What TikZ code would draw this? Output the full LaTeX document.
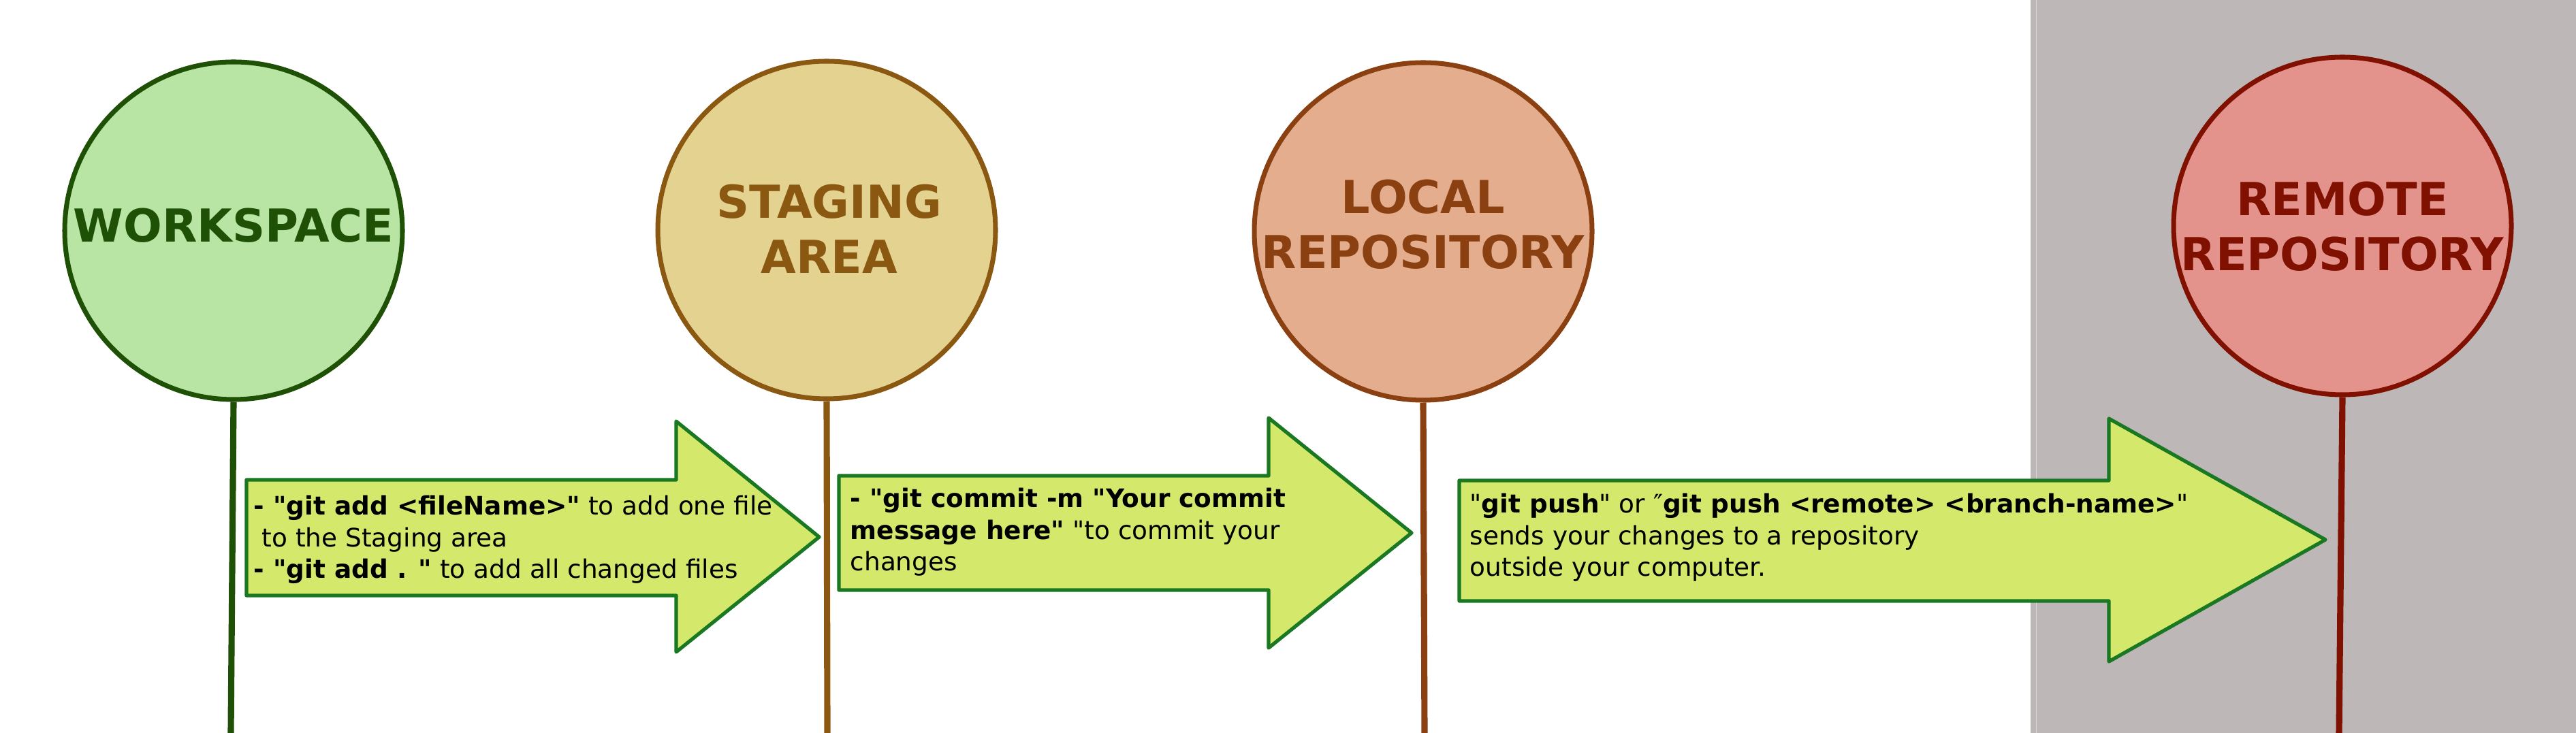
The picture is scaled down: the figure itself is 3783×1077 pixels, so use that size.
\documentclass[tikz,border=0pt]{standalone}
\usepackage{fontspec}
\setmainfont{DejaVu Sans}[Ligatures=TeXOff]
\definecolor{panelgray}{HTML}{BDB7B7}
\definecolor{panelline}{HTML}{D9D5D5}
\definecolor{wsline}{HTML}{1E5005}
\definecolor{wsfill}{HTML}{B8E4A4}
\definecolor{stline}{HTML}{8B5812}
\definecolor{stfill}{HTML}{E4D390}
\definecolor{lrline}{HTML}{8A4010}
\definecolor{lrfill}{HTML}{E4AE8E}
\definecolor{rrline}{HTML}{801000}
\definecolor{rrfill}{HTML}{E4928C}
\definecolor{arrfill}{HTML}{D4E96C}
\definecolor{arrline}{HTML}{1A7822}
\tikzset{
  stage/.style={circle, minimum size=49.6mm, inner sep=0pt, line width=2pt},
  stagetext/.style={align=center, inner sep=0pt,
    font=\bfseries\fontsize{19pt}{23pt}\selectfont},
  stem/.style={line width=2.6pt},
  bigarrow/.style={fill=arrfill, draw=arrline, line width=1.5pt, line join=round},
  arrtext/.style={anchor=west, align=left, inner sep=0pt, font=\fontsize{10.65pt}{13.2pt}\selectfont}
}
\begin{document}
\begin{tikzpicture}[x=0.1mm,y=-0.1mm]
\useasboundingbox (0,0) rectangle (3783,1077);
% remote side panel
\fill[panelgray] (2982,0) rectangle (3783,1077);
\draw[panelline, line width=0.3pt] (2990,0) -- (2990,1077);

% stages
\node[stage, draw=wsline, fill=wsfill] (ws) at (343,339) {};
\node[stage, draw=stline, fill=stfill] (st) at (1214,338) {};
\node[stage, draw=lrline, fill=lrfill] (lr) at (2090,340) {};
\node[stage, draw=rrline, fill=rrfill] (rr) at (3440,332) {};
\node[stagetext, text=wsline] (wst) at (343,331) {WORKSPACE};
\node[stagetext, text=stline] (stt) at (1218,336) {STAGING\\AREA};
\node[stagetext, text=lrline] (lrt) at (2090,330) {LOCAL\\REPOSITORY};
\node[stagetext, text=rrline] (rrt) at (3440,333) {REMOTE\\REPOSITORY};

% stems
\coordinate (wsb) at (339,1077);
\coordinate (stb) at (1215,1077);
\coordinate (lrb) at (2092,1077);
\coordinate (rrb) at (3435,1077);
\draw[stem, wsline] (ws.south) -- (wsb);
\draw[stem, stline] (st.south) -- (stb);
\draw[stem, lrline] (lr.south) -- (lrb);
\draw[stem, rrline] (rr.south) -- (rrb);

% arrows
\draw[bigarrow] (362,705) -- (993,705) -- (993,619) -- (1203,789) -- (993,958) -- (993,875) -- (362,875) -- cycle;
\draw[bigarrow] (1232,699) -- (1863,699) -- (1863,614) -- (2073,783) -- (1863,952) -- (1863,867) -- (1232,867) -- cycle;
\draw[bigarrow] (2143,706) -- (3097,706) -- (3097,615) -- (3415,793) -- (3097,972) -- (3097,883) -- (2143,883) -- cycle;

\node[arrtext] (a1) at (372,793) {\textbf{- "git add <fileName>"} to add one file\\
\hspace*{0.32em}to the Staging area\\
\textbf{- "git add . "} to add all changed files};
\node[arrtext] (a2) at (1248,782) {\textbf{- "git commit -m "Your commit}\\
\textbf{message here"} "to commit your\\
changes};
\node[arrtext] (a3) at (2158,790) {"\textbf{git push}" or ″\textbf{git push <remote> <branch-name>}"\\
sends your changes to a repository\\
outside your computer.};
\end{tikzpicture}
\end{document}
